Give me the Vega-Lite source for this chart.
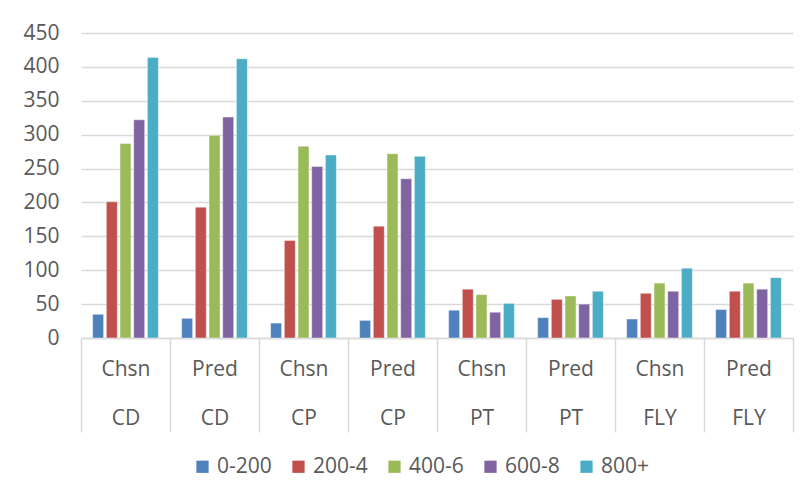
{
  "$schema": "https://vega.github.io/schema/vega-lite/v6.json",
  "width": 712,
  "height": 305,
  "autosize": {"type": "none"},
  "padding": {"left": 81, "top": 33, "right": 18, "bottom": 165},
  "background": "white",
  "config": {
    "view": {"stroke": null},
    "font": "Open Sans",
    "axis": {"labelColor": "#595959", "labelFont": "Open Sans", "labelFontSize": 21}
  },
  "data": {
    "values": [
      {"grp": "Chsn|CD", "series": "0-200", "value": 35},
      {"grp": "Chsn|CD", "series": "200-4", "value": 201},
      {"grp": "Chsn|CD", "series": "400-6", "value": 287},
      {"grp": "Chsn|CD", "series": "600-8", "value": 322},
      {"grp": "Chsn|CD", "series": "800+", "value": 414},
      {"grp": "Pred|CD", "series": "0-200", "value": 29},
      {"grp": "Pred|CD", "series": "200-4", "value": 193},
      {"grp": "Pred|CD", "series": "400-6", "value": 299},
      {"grp": "Pred|CD", "series": "600-8", "value": 326},
      {"grp": "Pred|CD", "series": "800+", "value": 412},
      {"grp": "Chsn|CP", "series": "0-200", "value": 22},
      {"grp": "Chsn|CP", "series": "200-4", "value": 144},
      {"grp": "Chsn|CP", "series": "400-6", "value": 283},
      {"grp": "Chsn|CP", "series": "600-8", "value": 253},
      {"grp": "Chsn|CP", "series": "800+", "value": 270},
      {"grp": "Pred|CP", "series": "0-200", "value": 26},
      {"grp": "Pred|CP", "series": "200-4", "value": 165},
      {"grp": "Pred|CP", "series": "400-6", "value": 272},
      {"grp": "Pred|CP", "series": "600-8", "value": 235},
      {"grp": "Pred|CP", "series": "800+", "value": 268},
      {"grp": "Chsn|PT", "series": "0-200", "value": 41},
      {"grp": "Chsn|PT", "series": "200-4", "value": 72},
      {"grp": "Chsn|PT", "series": "400-6", "value": 64},
      {"grp": "Chsn|PT", "series": "600-8", "value": 38},
      {"grp": "Chsn|PT", "series": "800+", "value": 51},
      {"grp": "Pred|PT", "series": "0-200", "value": 30},
      {"grp": "Pred|PT", "series": "200-4", "value": 57},
      {"grp": "Pred|PT", "series": "400-6", "value": 62},
      {"grp": "Pred|PT", "series": "600-8", "value": 50},
      {"grp": "Pred|PT", "series": "800+", "value": 69},
      {"grp": "Chsn|FLY", "series": "0-200", "value": 28},
      {"grp": "Chsn|FLY", "series": "200-4", "value": 66},
      {"grp": "Chsn|FLY", "series": "400-6", "value": 81},
      {"grp": "Chsn|FLY", "series": "600-8", "value": 69},
      {"grp": "Chsn|FLY", "series": "800+", "value": 103},
      {"grp": "Pred|FLY", "series": "0-200", "value": 42},
      {"grp": "Pred|FLY", "series": "200-4", "value": 69},
      {"grp": "Pred|FLY", "series": "400-6", "value": 81},
      {"grp": "Pred|FLY", "series": "600-8", "value": 72},
      {"grp": "Pred|FLY", "series": "800+", "value": 89}
    ]
  },
  "mark": {"type": "bar", "stroke": "white", "strokeWidth": 0.6, "strokeOpacity": 0.7},
  "encoding": {
    "x": {
      "field": "grp",
      "type": "nominal",
      "sort": null,
      "scale": {"paddingInner": 0, "paddingOuter": 0},
      "axis": {
        "title": null,
        "labelAngle": 0,
        "labelExpr": "datum.value ? split(datum.value, '|') : ''",
        "labelLineHeight": 49,
        "labelBaseline": "top",
        "labelPadding": -74,
        "tickBand": "extent",
        "tickSize": 94,
        "tickColor": "#d9d9d9",
        "tickWidth": 1.5,
        "domainColor": "#d9d9d9",
        "domainWidth": 1.5
      }
    },
    "xOffset": {
      "field": "series",
      "type": "nominal",
      "sort": ["0-200", "200-4", "400-6", "600-8", "800+"],
      "scale": {"paddingInner": 0.2, "paddingOuter": 0.85}
    },
    "y": {
      "field": "value",
      "type": "quantitative",
      "scale": {"domain": [0, 450], "nice": false},
      "axis": {
        "title": null,
        "values": [0, 50, 100, 150, 200, 250, 300, 350, 400, 450],
        "domain": false,
        "ticks": false,
        "labelPadding": 22,
        "labelFontSize": 21,
        "gridColor": "#d9d9d9",
        "gridWidth": 1.3
      }
    },
    "color": {
      "field": "series",
      "type": "nominal",
      "sort": ["0-200", "200-4", "400-6", "600-8", "800+"],
      "scale": {
        "domain": ["0-200", "200-4", "400-6", "600-8", "800+"],
        "range": ["#4F81BD", "#C0504D", "#9BBB59", "#8064A2", "#4BACC6"]
      },
      "legend": {
        "title": null,
        "orient": "none",
        "legendX": 111,
        "legendY": 423,
        "direction": "horizontal",
        "symbolType": "square",
        "symbolSize": 150,
        "symbolStrokeWidth": 0,
        "labelFontSize": 21,
        "labelColor": "#595959",
        "labelFont": "Open Sans",
        "columnPadding": 16,
        "labelOffset": 4
      }
    }
  }
}
